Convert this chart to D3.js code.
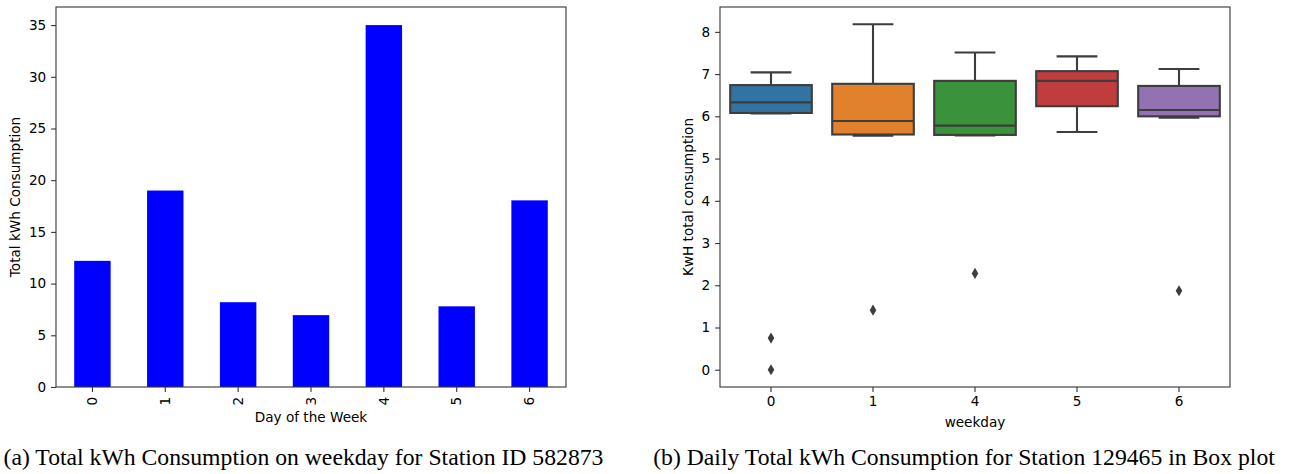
<!DOCTYPE html>
<html>
<head>
<meta charset="utf-8">
<script src="https://cdn.jsdelivr.net/npm/d3@7"></script>
<style>
  html, body { margin: 0; padding: 0; background: #fff; }
  svg { display: block; }
  .tick text { font-family: "DejaVu Sans", sans-serif; font-size: 13.6px; fill: #000; }
  .lbl { font-family: "DejaVu Sans", sans-serif; font-size: 13.6px; fill: #000; }
  .cap { font-family: "Liberation Serif", "Times New Roman", serif; font-size: 23.7px; fill: #000; }
</style>
</head>
<body>
<script>
// ---- (a) total kWh per weekday, station 582873 ----
const barDays = ["0", "1", "2", "3", "4", "5", "6"];
const barTotals = [12.2, 19.0, 8.2, 6.95, 35.0, 7.8, 18.05];
const barTicks = [0, 5, 10, 15, 20, 25, 30, 35];

// ---- (b) daily kWh distribution per weekday, station 129465 ----
const boxDays = ["0", "1", "4", "5", "6"];
const boxWhiskerLow = [6.07, 5.54, 5.55, 5.63, 5.97];
const boxQ1 = [6.08, 5.57, 5.56, 6.24, 6.00];
const boxMedian = [6.33, 5.89, 5.78, 6.84, 6.15];
const boxQ3 = [6.74, 6.77, 6.84, 7.07, 6.72];
const boxWhiskerHigh = [7.04, 8.18, 7.51, 7.42, 7.12];
const boxOutliers = [[0.75, 0.0], [1.41], [2.28], [], [1.87]];
const boxColors = ["#3274a1", "#e1812c", "#3a923a", "#c03d3e", "#9372b2"];
const boxTicks = [0, 1, 2, 3, 4, 5, 6, 7, 8];

const W = 1298, H = 474;
const svg = d3.select("body").append("svg").attr("width", W).attr("height", H);
svg.append("rect").attr("width", W).attr("height", H).attr("fill", "#fff");

const spine = "#333";
const tickLen = 4.9, tickPad = 4.9;

function styleAxis(g) {
  g.select(".domain").remove();
  g.selectAll(".tick line").attr("stroke", spine).attr("stroke-width", 1.1);
}

function frame(g, x0, y0, x1, y1) {
  g.append("rect").attr("x", x0).attr("y", y0).attr("width", x1 - x0).attr("height", y1 - y0)
    .attr("fill", "none").attr("stroke", spine).attr("stroke-width", 1.1);
}

// ---------- panel (a): bar chart ----------
{
  const L = 56, R = 566, T = 7, B = 387;
  const g = svg.append("g");
  const x = d3.scaleBand().domain(barDays).range([L, R]).paddingInner(0.5).paddingOuter(0.25);
  const y = d3.scaleLinear().domain([0, d3.max(barTotals) * 1.05]).range([B, T]);

  g.selectAll("rect.bar").data(barDays).join("rect").attr("class", "bar")
    .attr("x", d => x(d)).attr("width", x.bandwidth())
    .attr("y", (d, i) => y(barTotals[i])).attr("height", (d, i) => B - y(barTotals[i]))
    .attr("fill", "#0000ff");

  const ya = g.append("g").attr("transform", `translate(${L},0)`)
    .call(d3.axisLeft(y).tickValues(barTicks).tickSize(tickLen).tickPadding(tickPad));
  styleAxis(ya);

  const xa = g.append("g").attr("transform", `translate(0,${B})`)
    .call(d3.axisBottom(x).tickSize(tickLen).tickPadding(tickPad));
  styleAxis(xa);
  xa.selectAll(".tick text")
    .attr("transform", "rotate(-90)")
    .attr("text-anchor", "end").attr("dy", "0.35em")
    .attr("x", -(tickLen + tickPad)).attr("y", 0);

  frame(g, L, T, R, B);

  g.append("text").attr("class", "lbl").attr("text-anchor", "middle")
    .attr("x", (L + R) / 2).attr("y", 422).text("Day of the Week");
  g.append("text").attr("class", "lbl").attr("text-anchor", "middle")
    .attr("transform", `translate(20,${(T + B) / 2}) rotate(-90)`).text("Total kWh Consumption");

  svg.append("text").attr("class", "cap").attr("text-anchor", "middle")
    .attr("x", 303.5).attr("y", 465).text("(a) Total kWh Consumption on weekday for Station ID 582873");
}

// ---------- panel (b): box plot ----------
{
  const L = 720, R = 1230, T = 7, B = 387;
  const g = svg.append("g");
  const x = d3.scaleBand().domain(boxDays).range([L, R]).paddingInner(0.2).paddingOuter(0.1);
  const allVals = boxWhiskerHigh.concat(boxWhiskerLow, boxOutliers.flat());
  const lo = d3.min(allVals), hi = d3.max(allVals), pad = (hi - lo) * 0.05;
  const y = d3.scaleLinear().domain([lo - pad, hi + pad]).range([B, T]);

  const lineCol = "#3d3d3d", lw = 2.1;

  boxDays.forEach((d, i) => {
    const cx = x(d) + x.bandwidth() / 2;
    const bw = x.bandwidth();
    const cap = bw / 2;
    const bg = g.append("g");
    // whiskers
    bg.append("line").attr("x1", cx).attr("x2", cx)
      .attr("y1", y(boxQ3[i])).attr("y2", y(boxWhiskerHigh[i]))
      .attr("stroke", lineCol).attr("stroke-width", lw);
    bg.append("line").attr("x1", cx).attr("x2", cx)
      .attr("y1", y(boxQ1[i])).attr("y2", y(boxWhiskerLow[i]))
      .attr("stroke", lineCol).attr("stroke-width", lw);
    // caps
    [boxWhiskerHigh[i], boxWhiskerLow[i]].forEach(v => {
      bg.append("line").attr("x1", cx - cap / 2).attr("x2", cx + cap / 2)
        .attr("y1", y(v)).attr("y2", y(v))
        .attr("stroke", lineCol).attr("stroke-width", lw);
    });
    // box
    bg.append("rect").attr("x", x(d)).attr("width", bw)
      .attr("y", y(boxQ3[i])).attr("height", y(boxQ1[i]) - y(boxQ3[i]))
      .attr("fill", boxColors[i]).attr("stroke", lineCol).attr("stroke-width", lw);
    // median
    bg.append("line").attr("x1", x(d)).attr("x2", x(d) + bw)
      .attr("y1", y(boxMedian[i])).attr("y2", y(boxMedian[i]))
      .attr("stroke", lineCol).attr("stroke-width", lw);
    // outliers (thin diamonds)
    boxOutliers[i].forEach(v => {
      const py = y(v), hw = 3.3, hh = 5.6;
      bg.append("path")
        .attr("d", `M${cx},${py - hh}L${cx + hw},${py}L${cx},${py + hh}L${cx - hw},${py}Z`)
        .attr("fill", lineCol);
    });
  });

  const ya = g.append("g").attr("transform", `translate(${L},0)`)
    .call(d3.axisLeft(y).tickValues(boxTicks).tickSize(tickLen).tickPadding(tickPad));
  styleAxis(ya);

  const xa = g.append("g").attr("transform", `translate(0,${B})`)
    .call(d3.axisBottom(x).tickSize(tickLen).tickPadding(tickPad));
  styleAxis(xa);

  frame(g, L, T, R, B);

  g.append("text").attr("class", "lbl").attr("text-anchor", "middle")
    .attr("x", (L + R) / 2).attr("y", 427).text("weekday");
  g.append("text").attr("class", "lbl").attr("text-anchor", "middle")
    .attr("transform", `translate(693,${(T + B) / 2}) rotate(-90)`).text("KwH total consumption");

  svg.append("text").attr("class", "cap").attr("text-anchor", "middle")
    .attr("x", 964).attr("y", 465).text("(b) Daily Total kWh Consumption for Station 129465 in Box plot");
}
</script>
</body>
</html>
